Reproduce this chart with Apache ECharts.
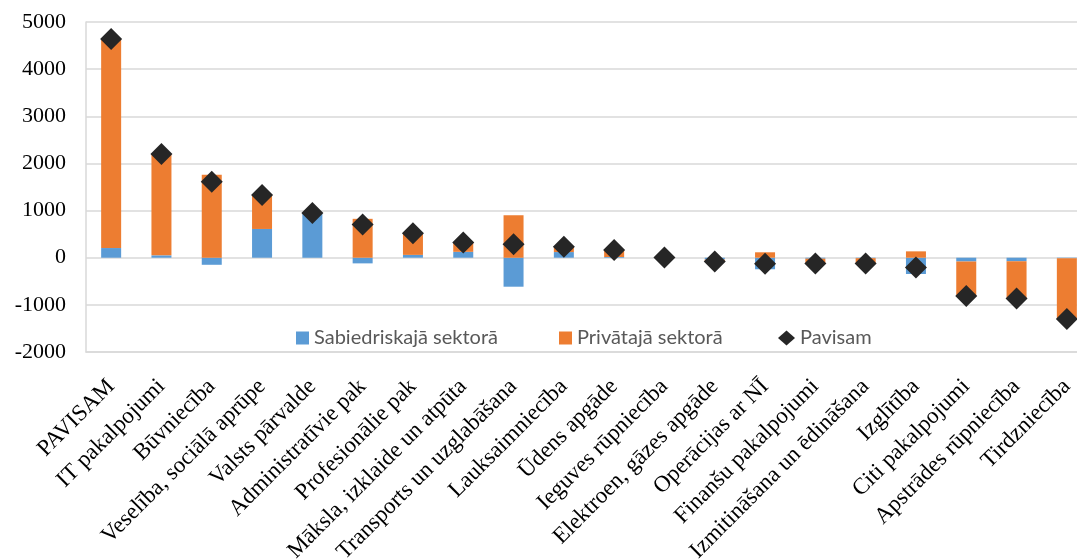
<!DOCTYPE html>
<html><head><meta charset="utf-8">
<script src="https://cdn.jsdelivr.net/npm/echarts@6/dist/echarts.min.js"></script>
<style>html,body{margin:0;padding:0;background:#fff}#c{width:1077px;height:560px}</style>
</head><body><div id="c"></div>
<script>
const categories = ["PAVISAM","IT pakalpojumi","Būvniecība","Veselība, sociālā aprūpe","Valsts pārvalde","Administratīvie pak","Profesionālie pak","Māksla, izklaide un atpūta","Transports un uzglabāšana","Lauksaimniecība","Ūdens apgāde","Ieguves rūpniecība","Elektroen, gāzes apgāde","Operācijas ar NĪ","Finanšu pakalpojumi","Izmitināšana un ēdināšana","Izglītība","Citi pakalpojumi","Apstrādes rūpniecība","Tirdzniecība"];
const publicSector = [205, 50, -150, 610, 940, -120, 60, 125, -615, 120, 15, 0, -40, -245, -20, -10, -345, -80, -75, -10];
const privateSector = [4430, 2150, 1760, 720, 10, 825, 460, 200, 900, 110, 150, 5, -40, 115, -105, -115, 135, -730, -790, -1290];
const total = [4640, 2200, 1610, 1330, 950, 705, 520, 325, 285, 230, 165, 5, -80, -130, -125, -125, -210, -810, -865, -1300];
const yTicks = {min: -2000, max: 5000, interval: 1000};
const seriesNames = ['Sabiedriskajā sektorā', 'Privātajā sektorā', 'Pavisam'];

const legendText = {fontFamily: 'Lato', fontSize: 20, color: '#595959'};
const chart = echarts.init(document.getElementById('c'));
chart.setOption({
  animation: false,
  grid: {left: 86, top: 22, bottom: 208, right: -15, outerBoundsMode: 'none', containLabel: false},
  legend: [
    {left: 291, top: 323, itemWidth: 13, itemHeight: 13, itemGap: 6, textStyle: legendText, data: [{name: seriesNames[0], icon: 'rect'}]},
    {left: 554, top: 323, itemWidth: 13, itemHeight: 13, itemGap: 6, textStyle: legendText, data: [{name: seriesNames[1], icon: 'rect'}]},
    {left: 773, top: 323, itemWidth: 17, itemHeight: 15, itemGap: 4, textStyle: legendText, data: [{name: seriesNames[2], icon: 'diamond'}]}
  ],
  xAxis: {
    type: 'category', data: categories,
    axisLine: {onZero: false, lineStyle: {color: '#d9d9d9', width: 1.5}},
    axisTick: {show: false},
    axisLabel: {rotate: 45, interval: 0, fontFamily: 'Liberation Serif', fontSize: 23, color: '#000', margin: 31}
  },
  yAxis: {
    type: 'value', min: yTicks.min, max: yTicks.max, interval: yTicks.interval,
    axisLine: {show: true, lineStyle: {color: '#d9d9d9', width: 1.5}},
    axisTick: {show: false},
    splitLine: {lineStyle: {color: '#d9d9d9', width: 1.5}},
    axisLabel: {fontFamily: 'Liberation Serif', fontSize: 22, color: '#000', margin: 20, formatter: v => String(v)}
  },
  series: [
    {name: seriesNames[0], type: 'bar', stack: 's', barWidth: 20, data: publicSector, itemStyle: {color: '#5B9BD5'}},
    {name: seriesNames[1], type: 'bar', stack: 's', barWidth: 20, data: privateSector, itemStyle: {color: '#ED7D31'}},
    {name: seriesNames[2], type: 'scatter', symbol: 'diamond', symbolSize: 22, data: total, itemStyle: {color: '#262626', opacity: 1}, z: 5}
  ]
});
</script></body></html>
